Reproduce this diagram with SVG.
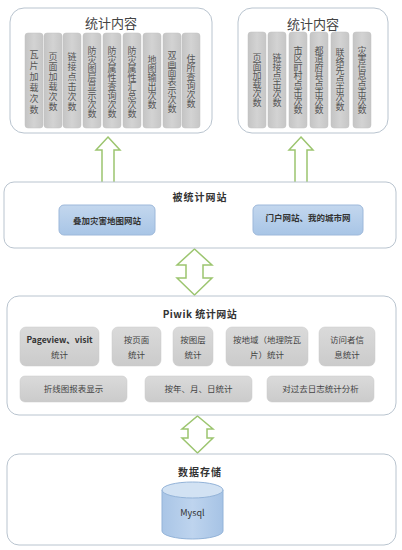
<svg xmlns="http://www.w3.org/2000/svg" width="402" height="550" viewBox="0 0 402 550">
<defs>
<linearGradient id="gcol" x1="0" y1="0" x2="1" y2="0">
<stop offset="0" stop-color="#c4c4c4"/><stop offset="0.5" stop-color="#d3d3d3"/><stop offset="1" stop-color="#c6c6c6"/>
</linearGradient>
<linearGradient id="gbox" x1="0" y1="0" x2="0" y2="1">
<stop offset="0" stop-color="#dadada"/><stop offset="1" stop-color="#cbcbcb"/>
</linearGradient>
<linearGradient id="gblue" x1="0" y1="0" x2="0" y2="1">
<stop offset="0" stop-color="#c3d7ee"/><stop offset="1" stop-color="#a8c5e6"/>
</linearGradient>
<linearGradient id="gcyl" x1="0" y1="0" x2="1" y2="0">
<stop offset="0" stop-color="#a9c5e6"/><stop offset="0.5" stop-color="#bed4ee"/><stop offset="1" stop-color="#a6c3e5"/>
</linearGradient>
</defs>
<style>
.outer{fill:#ffffff;stroke:#b9c4cf;stroke-width:1}
.col{fill:url(#gcol);stroke:#c0c0c0;stroke-width:0.5}
.gb{fill:url(#gbox);stroke:#c8c8c8;stroke-width:0.5}
.blue{fill:url(#gblue);stroke:#9db8da;stroke-width:1}
.arr{fill:#ffffff;stroke:#9cc56f;stroke-width:1.5;stroke-linejoin:miter}
text{font-family:"Noto Sans CJK SC","Liberation Sans",sans-serif;fill:#333333}
.t1{font-size:13px;text-anchor:middle;fill:#444444}
.vt{font-size:9px;writing-mode:vertical-rl;text-orientation:upright;text-anchor:middle;fill:#555555}
.s1{letter-spacing:1px}
.s2{letter-spacing:2px}
.sn{letter-spacing:-0.5px}
.tb{font-size:10px;font-weight:bold;text-anchor:middle;letter-spacing:1px}
.ts{font-size:8.5px;text-anchor:middle;fill:#444444}
.tsb{font-size:8.5px;font-weight:bold;text-anchor:middle;fill:#333333}
</style>

<g id="connectors">
<path class="arr" d="M108,137 L120,150 L114,150 L114,205 L102,205 L102,150 L96,150 Z"/>
<path class="arr" d="M301,137 L313,150 L307,150 L307,205 L295,205 L295,150 L289,150 Z"/>
<path class="arr" d="M194.5,249 L212,265 L203,265 L203,278 L212,278 L194.5,295 L177,278 L186,278 L186,265 L177,265 Z"/>
<path class="arr" d="M197.5,416 L213,429 L207,429 L207,438 L213,438 L197.5,453 L182,438 L188,438 L188,429 L182,429 Z"/>
</g>

<g id="stats-left">
<rect class="outer" x="10" y="8" width="202" height="125" rx="14"/>
<text class="t1" x="111" y="28">统计内容</text>
<rect class="col" x="25" y="33" width="18" height="95" rx="3"/>
<rect class="col" x="44" y="33" width="18" height="95" rx="3"/>
<rect class="col" x="63" y="33" width="18" height="95" rx="3"/>
<rect class="col" x="83" y="33" width="18" height="95" rx="3"/>
<rect class="col" x="103" y="33" width="18" height="95" rx="3"/>
<rect class="col" x="123" y="33" width="18" height="95" rx="3"/>
<rect class="col" x="143" y="33" width="18" height="95" rx="3"/>
<rect class="col" x="163" y="33" width="18" height="95" rx="3"/>
<rect class="col" x="182" y="33" width="18" height="95" rx="3"/>
<text class="vt s2" x="34" y="83">瓦片加载次数</text>
<text class="vt s1" x="53" y="82.5">页面加载次数</text>
<text class="vt s1" x="72" y="82.5">链接点击次数</text>
<text class="vt" x="92" y="82">防灾图层显示次数</text>
<text class="vt" x="112" y="82">防灾属性查询次数</text>
<text class="vt" x="132" y="82">防灾属性汇总次数</text>
<text class="vt" x="152" y="82">地图输出次数</text>
<text class="vt" x="172" y="82">双画面表示次数</text>
<text class="vt" x="191" y="81">住所查询次数</text>
</g>

<g id="stats-right">
<rect class="outer" x="238" y="8" width="150" height="125" rx="14"/>
<text class="t1" x="313" y="29">统计内容</text>
<rect class="col" x="248" y="32" width="18" height="96" rx="3"/>
<rect class="col" x="268" y="32" width="18" height="96" rx="3"/>
<rect class="col" x="289" y="32" width="18" height="96" rx="3"/>
<rect class="col" x="310" y="32" width="18" height="96" rx="3"/>
<rect class="col" x="331" y="32" width="18" height="96" rx="3"/>
<rect class="col" x="353" y="32" width="18" height="96" rx="3"/>
<text class="vt" x="257" y="80">页面加载次数</text>
<text class="vt" x="277" y="80">链接点击次数</text>
<text class="vt sn" x="298" y="80">市区町村点击次数</text>
<text class="vt sn" x="319" y="80">都道府县点击次数</text>
<text class="vt" x="340" y="80">联络先点击次数</text>
<text class="vt sn" x="362" y="80">灾害信息点击次数</text>
</g>

<g id="tracked-sites">
<rect class="outer" x="4" y="182" width="392" height="66" rx="10"/>
<text class="tb" x="200" y="201">被统计网站</text>
</g>
<g id="site-map">
<rect class="blue" x="59" y="205" width="96" height="30" rx="5"/>
<text class="tsb" x="107" y="224">叠加灾害地图网站</text>
</g>
<g id="site-portal">
<rect class="blue" x="253" y="205" width="110" height="30" rx="5"/>
<text class="tsb" x="308" y="221">门户网站、我的城市网</text>
</g>

<g id="piwik">
<rect class="outer" x="7" y="296" width="389" height="119" rx="12"/>
<text class="tb" x="200" y="318" style="letter-spacing:0.5px">Piwik 统计网站</text>
</g>
<g id="p-pageview">
<rect class="gb" x="20" y="327" width="79" height="39" rx="6"/>
<text class="tsb" x="59.5" y="343">Pageview、visit</text>
<text class="ts" x="59.5" y="358">统计</text>
</g>
<g id="p-page">
<rect class="gb" x="112" y="327" width="49" height="39" rx="6"/>
<text class="ts" x="136.5" y="343">按页面</text>
<text class="ts" x="136.5" y="358">统计</text>
</g>
<g id="p-layer">
<rect class="gb" x="173" y="327" width="40" height="39" rx="6"/>
<text class="ts" x="193" y="343">按图层</text>
<text class="ts" x="193" y="358">统计</text>
</g>
<g id="p-region">
<rect class="gb" x="226" y="327" width="82" height="39" rx="6"/>
<text class="ts" x="267" y="343">按地域（地理院瓦</text>
<text class="ts" x="267" y="358">片）统计</text>
</g>
<g id="p-visitor">
<rect class="gb" x="319" y="327" width="56" height="39" rx="6"/>
<text class="ts" x="347" y="343">访问者信</text>
<text class="ts" x="347" y="358">息统计</text>
</g>
<g id="p-chart">
<rect class="gb" x="20" y="376" width="107" height="26" rx="5"/>
<text class="ts" x="73.5" y="392">折线图报表显示</text>
</g>
<g id="p-date">
<rect class="gb" x="145" y="376" width="107" height="26" rx="5"/>
<text class="ts" x="198.5" y="392">按年、月、日统计</text>
</g>
<g id="p-log">
<rect class="gb" x="267" y="376" width="107" height="26" rx="5"/>
<text class="ts" x="320.5" y="392">对过去日志统计分析</text>
</g>

<g id="storage">
<rect class="outer" x="7" y="454" width="389" height="91" rx="12"/>
<text class="tb" x="200" y="476">数据存储</text>
</g>
<g id="mysql">
<path d="M162,490 L162,531 A30.5,8 0 0 0 223,531 L223,490 Z" fill="url(#gcyl)" stroke="#93b3d8" stroke-width="1"/>
<ellipse cx="192.5" cy="490" rx="30.5" ry="8" fill="#d2e2f3" stroke="#93b3d8" stroke-width="1"/>
<text x="192.5" y="516" style="font-size:9px;text-anchor:middle;fill:#333">Mysql</text>
</g>
</svg>
